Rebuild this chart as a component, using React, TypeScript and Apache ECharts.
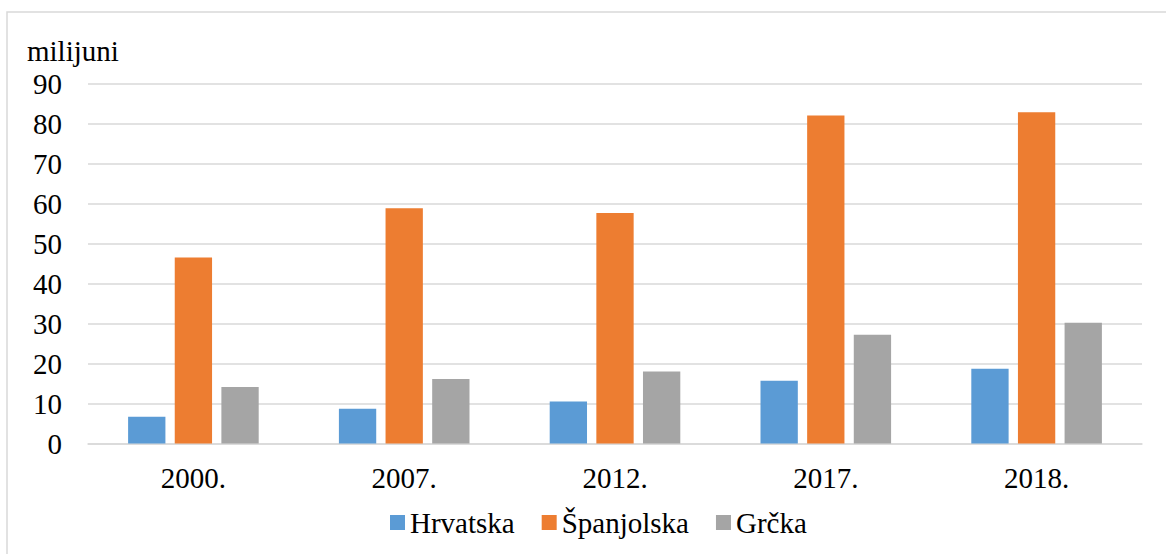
import React, { useEffect, useRef } from "react";
import * as echarts from "echarts";

const categories = ["2000.", "2007.", "2012.", "2017.", "2018."];
const hrvatska = [6.7, 8.7, 10.5, 15.7, 18.7];
const spanjolska = [46.5, 58.8, 57.6, 82.0, 82.8];
const grcka = [14.1, 16.1, 18.0, 27.2, 30.2];
const seriesNames = ["Hrvatska", "Španjolska", "Grčka"];
const colors = ["#5B9BD5", "#ED7D31", "#A5A5A5"];
const yTicks = { min: 0, max: 90, interval: 10 };
const unitLabel = "milijuni";

const FONT = "Liberation Serif";
const FS = 29;

export default function App() {
  const ref = useRef<HTMLDivElement>(null);
  useEffect(() => {
    if (!ref.current) return;
    const chart = echarts.init(ref.current, undefined, { renderer: "svg" });
    const values = [hrvatska, spanjolska, grcka];
    chart.setOption({
      animation: false,
      backgroundColor: "#ffffff",
      textStyle: { fontFamily: FONT, fontSize: FS },
      graphic: [
        {
          type: "rect",
          shape: { x: 7, y: 12, width: 1180, height: 580 },
          style: { fill: "none", stroke: "#d9d9d9", lineWidth: 1.5 },
          silent: true,
        },
        {
          type: "text",
          x: 27,
          y: 51,
          style: {
            text: unitLabel,
            fontFamily: FONT,
            fontSize: FS,
            fill: "#000",
            verticalAlign: "middle",
          },
        },
      ],
      grid: { left: 88, right: 24, top: 83.5, bottom: 110.5 },
      legend: {
        data: seriesNames,
        left: 385,
        top: 503,
        itemWidth: 15,
        itemHeight: 15,
        itemGap: 27,
        icon: "rect",
        textStyle: { fontFamily: FONT, fontSize: FS, color: "#000" },
      },
      xAxis: {
        type: "category",
        data: categories,
        axisLine: { lineStyle: { color: "#d9d9d9", width: 1.5 } },
        axisTick: { show: false },
        axisLabel: { fontFamily: FONT, fontSize: FS, color: "#000", margin: 20 },
      },
      yAxis: {
        type: "value",
        min: yTicks.min,
        max: yTicks.max,
        interval: yTicks.interval,
        axisLine: { show: false },
        axisTick: { show: false },
        splitLine: { lineStyle: { color: "#d9d9d9", width: 1.5 } },
        axisLabel: { fontFamily: FONT, fontSize: FS, color: "#000", margin: 26 },
      },
      series: seriesNames.map((name, i) => ({
        name,
        type: "bar",
        data: values[i],
        barWidth: "17.7%",
        barGap: "25%",
        itemStyle: { color: colors[i] },
      })),
    });
    return () => chart.dispose();
  }, []);
  return (
    <div
      ref={ref}
      style={{ position: "absolute", left: 0, top: 0, width: 1166, height: 554 }}
    />
  );
}
